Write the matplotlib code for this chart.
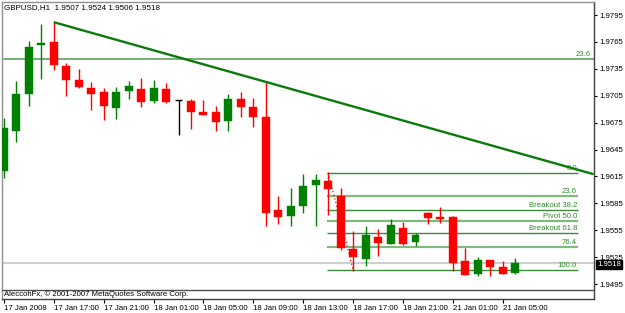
import matplotlib
matplotlib.use("Agg")
import matplotlib.pyplot as plt

# ---- data (GBPUSD H1) ----
opens  = [1.9621, 1.9666, 1.9707, 1.9762, 1.9765, 1.9738, 1.9723, 1.9714, 1.9709, 1.9691,
          1.9710, 1.9713, 1.9699, 1.9713, 1.9700, 1.9699, 1.9687, 1.9687, 1.9677, 1.9701,
          1.9692, 1.9681, 1.9578, 1.9571, 1.9582, 1.9605, 1.9610, 1.9593, 1.9534, 1.9523,
          1.9547, 1.9540, 1.9557, 1.9542, 1.9574, 1.9570, 1.9570, 1.9521, 1.9506, 1.9522,
          1.9514, 1.9507]
highs  = [1.9680, 1.9721, 1.9766, 1.9785, 1.9787, 1.9742, 1.9735, 1.9720, 1.9714, 1.9715,
          1.9721, 1.9725, 1.9723, 1.9719, 1.9700, 1.9701, 1.9700, 1.9694, 1.9707, 1.9709,
          1.9702, 1.9720, 1.9593, 1.9602, 1.9618, 1.9618, 1.9620, 1.9602, 1.9554, 1.9560,
          1.9556, 1.9568, 1.9564, 1.9552, 1.9575, 1.9581, 1.9571, 1.9535, 1.9525, 1.9522,
          1.9521, 1.9524]
lows   = [1.9613, 1.9653, 1.9694, 1.9724, 1.9734, 1.9705, 1.9714, 1.9689, 1.9678, 1.9679,
          1.9701, 1.9692, 1.9697, 1.9697, 1.9661, 1.9668, 1.9684, 1.9666, 1.9666, 1.9681,
          1.9670, 1.9560, 1.9562, 1.9560, 1.9574, 1.9560, 1.9572, 1.9533, 1.9510, 1.9515,
          1.9526, 1.9540, 1.9539, 1.9537, 1.9562, 1.9563, 1.9510, 1.9505, 1.9504, 1.9504,
          1.9506, 1.9506]
closes = [1.9669, 1.9707, 1.9759, 1.9764, 1.9739, 1.9723, 1.9715, 1.9707, 1.9694, 1.9709,
          1.9716, 1.9698, 1.9714, 1.9698, 1.9700, 1.9687, 1.9684, 1.9676, 1.9701, 1.9692,
          1.9681, 1.9574, 1.9570, 1.9582, 1.9604, 1.9611, 1.9601, 1.9535, 1.9525, 1.9550,
          1.9541, 1.9561, 1.9540, 1.9550, 1.9569, 1.9568, 1.9518, 1.9505, 1.9522, 1.9514,
          1.9506, 1.9518]

time_ticks = [0, 4, 8, 12, 16, 20, 24, 28, 32, 36, 40]
time_labels = ["17 Jan 2008", "17 Jan 17:00", "17 Jan 21:00", "18 Jan 01:00", "18 Jan 05:00",
               "18 Jan 09:00", "18 Jan 13:00", "18 Jan 17:00", "18 Jan 21:00", "21 Jan 01:00",
               "21 Jan 05:00"]
price_ticks = [1.9795, 1.9765, 1.9735, 1.9705, 1.9675, 1.9645, 1.9615, 1.9585, 1.9555, 1.9525, 1.9495]

trend_x = [4, 47.27]
trend_y = [1.9787, 1.96175]

upper_fib_level = 1.97454
upper_fib_label = "23.6"

fib_high = 1.9619
fib_low = 1.9511
fib_anchor_x = [26, 28]
fib_start, fib_end = 25.9, 46.0
fib_levels = [0.0, 23.6, 38.2, 50.0, 61.8, 76.4, 100.0]
fib_labels = ["0.0", "23.6", "Breakout 38.2", "Pivot 50.0", "Breakout 61.8", "76.4", "100.0"]

last_price = 1.9518
title = "GBPUSD,H1  1.9507 1.9524 1.9506 1.9518"
copyright_txt = "AleccohFx, © 2001-2007 MetaQuotes Software Corp."

# ---- figure ----
W, H = 625, 313
fig = plt.figure(figsize=(W / 100, H / 100), dpi=100, facecolor="white")
ax = fig.add_axes([2 / W, 1 - 299 / H, (593.5 - 2) / W, (299 - 2) / H])
ax.set_facecolor("white")
ax.set_xlim(-0.15, 47.27)
ax.set_ylim(1.94783, 1.98095)

FONT = "Liberation Sans"
GREEN = "#008000"
RED = "#ff0000"

# current price line
ax.axhline(last_price, color="#cfcfcf", lw=1.5, zorder=1)

# upper fib level (full width)
ax.axhline(upper_fib_level, color="#6aa86a", lw=1.3, zorder=1)
ax.text(47.0, upper_fib_level + 0.00012, upper_fib_label, color="#2e8b2e", fontsize=5.6,
        family=FONT, ha="right", va="bottom")

# fib retracement
rng = fib_high - fib_low
for i, (lv, lb) in enumerate(zip(fib_levels, fib_labels)):
    yv = fib_high - rng * lv / 100.0
    light = lv in (23.6, 50.0, 76.4)
    ax.hlines(yv, fib_start, fib_end, color="#80b880" if light else "#3a8a3a",
              lw=1.6 if light else 1.0, zorder=1)
    ax.text(fib_end - 0.05, yv + 0.00012, lb, color="#2e8b2e", fontsize=5.6, family=FONT,
            ha="right", va="bottom", zorder=2)
ax.plot(fib_anchor_x, [fib_high, fib_low], color=RED, lw=0.9, ls=(0, (1, 2)), zorder=4)

# candles
bw = 0.64
for i, (o, h, l, c) in enumerate(zip(opens, highs, lows, closes)):
    if c > o:
        col = GREEN
    elif c < o:
        col = RED
    else:
        col = "black"
    ax.vlines(i, l, h, color=col, lw=1.0, zorder=3)
    if c == o:
        ax.hlines(o, i - bw / 2, i + bw / 2, color=col, lw=1.0, zorder=3)
    else:
        ax.bar(i, c - o, bottom=o, width=bw, color=col, edgecolor=col, lw=0.3, zorder=3)

# trendline
ax.plot(trend_x, trend_y, color="#0a7a0a", lw=1.7, zorder=5, solid_capstyle="butt")

# axes styling
for s in ["left", "top"]:
    ax.spines[s].set_color("#909090")
    ax.spines[s].set_linewidth(1.0)
for s in ["right", "bottom"]:
    ax.spines[s].set_color("#404040")
    ax.spines[s].set_linewidth(1.0)

ax.yaxis.tick_right()
ax.set_yticks(price_ticks)
ax.set_yticklabels([f"{p:.4f}" for p in price_ticks])
ax.tick_params(axis="y", direction="out", length=2.5, width=0.8, pad=1.5, labelsize=5.6,
               colors="black")
ax.set_xticks(time_ticks)
ax.set_xticklabels(time_labels)
ax.tick_params(axis="x", direction="out", length=3, width=0.8, pad=1.5, labelsize=5.6)
for t in ax.get_xticklabels() + ax.get_yticklabels():
    t.set_family(FONT)
for t in ax.get_xticklabels():
    t.set_ha("left")

# separator line above copyright strip
ax.plot([0, 1], [(299 - 290) / 297] * 2, transform=ax.transAxes, color="#505050", lw=1.0,
        zorder=6, clip_on=False)

fig.text(4 / W, 1 - 8 / H, title, fontsize=5.8, family=FONT, ha="left", va="center")
fig.text(4 / W, 1 - 294.5 / H, copyright_txt, fontsize=5.6, family=FONT, ha="left", va="center")

# last price box
fig.text(609 / W, 1 - 264.5 / H, f"{last_price:.4f}", fontsize=5.6, family=FONT, color="white",
         ha="center", va="center",
         bbox=dict(boxstyle="square,pad=0.12", fc="black", ec="black"))

fig.savefig("out.png", dpi=100, facecolor="white")
